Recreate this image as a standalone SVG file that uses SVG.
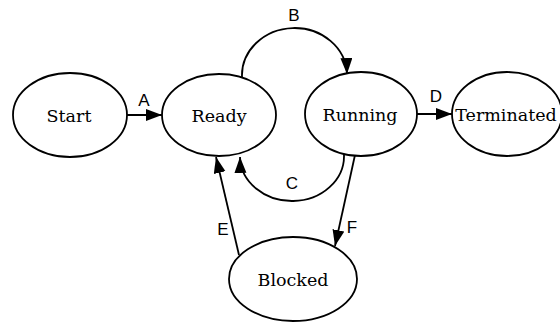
<svg xmlns="http://www.w3.org/2000/svg" width="560" height="322" viewBox="0 0 560 322">
<style>
.node{fill:#fff;stroke:#000;stroke-width:1.8}
.nt{font-family:"DejaVu Serif","Liberation Serif",serif;font-size:17.5px;text-anchor:middle;fill:#000}
.lbl{font-family:"Liberation Sans",Arial,sans-serif;font-size:17px;text-anchor:middle;fill:#000}
.edge{fill:none;stroke:#000;stroke-width:1.8;marker-end:url(#arr)}
</style>
<defs>
<marker id="arr" markerUnits="userSpaceOnUse" markerWidth="18" markerHeight="13" refX="16" refY="6" orient="auto">
<path d="M0,0 L16,6 L0,12 Z" fill="#000"/>
</marker>
</defs>
<g id="connectors">
<path id="eA" class="edge" d="M127,115 L162,115"/>
<path id="eB" class="edge" d="M242,77 A52,47 0 0 1 347,74"/>
<path id="eC" class="edge" d="M344,155 A52,45 0 0 1 240,157"/>
<path id="eD" class="edge" d="M417,114 L452,114"/>
<path id="eE" class="edge" d="M239,255 L216,157"/>
<path id="eF" class="edge" d="M355,155 L335,246"/>
<text class="lbl" x="144" y="106">A</text>
<text class="lbl" x="294" y="21">B</text>
<text class="lbl" x="292" y="189">C</text>
<text class="lbl" x="436" y="102">D</text>
<text class="lbl" x="223" y="235">E</text>
<text class="lbl" x="352" y="233">F</text>
</g>
<g id="start"><ellipse class="node" cx="70" cy="115" rx="57" ry="42"/><text class="nt" x="69" y="122">Start</text></g>
<g id="ready"><ellipse class="node" cx="219" cy="115" rx="57" ry="41"/><text class="nt" x="219" y="122">Ready</text></g>
<g id="running"><ellipse class="node" cx="361" cy="114" rx="56" ry="42"/><text class="nt" x="360" y="121">Running</text></g>
<g id="terminated"><ellipse class="node" cx="507" cy="114" rx="55" ry="42"/><text class="nt" x="506" y="121">Terminated</text></g>
<g id="blocked"><ellipse class="node" cx="293" cy="279" rx="64" ry="42"/><text class="nt" x="293" y="286">Blocked</text></g>
</svg>
